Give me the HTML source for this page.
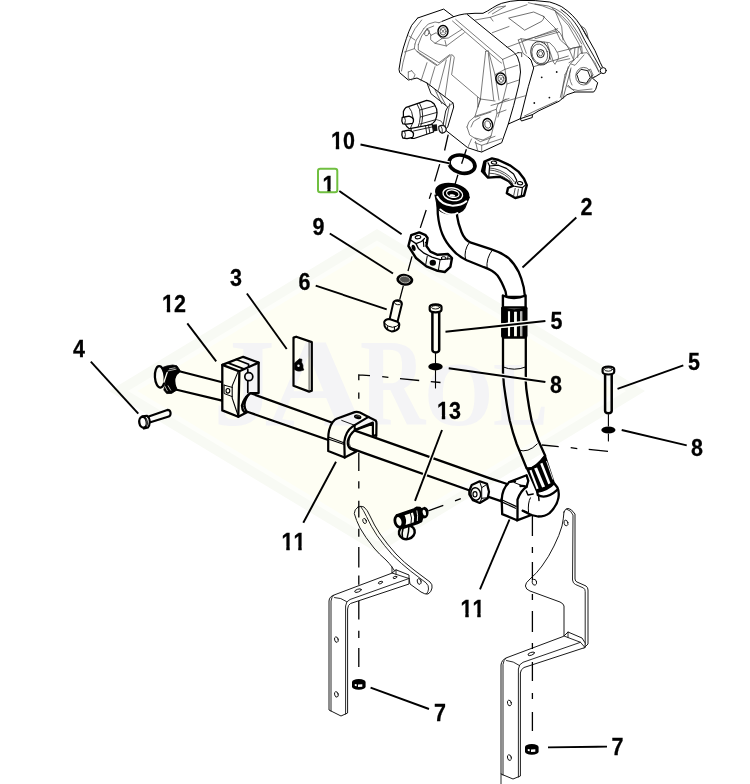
<!DOCTYPE html>
<html>
<head>
<meta charset="utf-8">
<title>Parts diagram</title>
<style>
html,body{margin:0;padding:0;background:#fff;}
body{width:750px;height:784px;overflow:hidden;font-family:"Liberation Sans",sans-serif;}
svg{display:block;}
.lbl{font-family:"Liberation Sans",sans-serif;font-weight:bold;font-size:21.5px;fill:#000;stroke:#000;stroke-width:0.25;}
.ld{stroke:#000;stroke-width:1.9;fill:none;stroke-linecap:butt;}
.k{stroke:#000;stroke-width:2.3;fill:#fff;stroke-linejoin:round;stroke-linecap:round;}
.kn{stroke:#000;stroke-width:2.3;fill:none;stroke-linejoin:round;stroke-linecap:round;}
.t{stroke:#000;stroke-width:1;fill:none;stroke-linejoin:round;stroke-linecap:round;}
.th{stroke:#222;stroke-width:0.8;fill:none;stroke-linejoin:round;stroke-linecap:round;}
.g{stroke:#444;stroke-width:0.7;fill:none;stroke-linejoin:round;stroke-linecap:round;}
.br{stroke:#1a1a1a;stroke-width:1;fill:#fff;stroke-linejoin:round;stroke-linecap:round;}
.brn{stroke:#111;stroke-width:0.9;fill:none;stroke-linejoin:round;stroke-linecap:round;}
.dash{stroke:#000;stroke-width:1.3;fill:none;}
.wm{font-family:"Liberation Serif",serif;font-weight:bold;fill:#f4f4f6;}
</style>
</head>
<body>
<svg width="750" height="784" viewBox="0 0 750 784">
<rect x="0" y="0" width="750" height="784" fill="#fff"/>



<g id="pump">
<!-- silhouette fill -->
<path d="M417.7,18 L443.7,9.1 L453.7,16.7 L464.3,14 L483,13.3 L492.3,8 L501.7,3.3 L519,0 L549.7,2 L561.7,6.7 L572.3,15.3 L580.3,25.3 L588.3,38.7 L595,50.7 L602.3,66.7 L606,70.7 L600.3,74.7 L592.3,78 L597.7,82.7 L595.7,89.3 L593.7,92 L575,92 L567,94.7 L559,101.3 L539,110.7 L520.3,118.7 L508.3,124 L501.7,142.7 L481.7,152 L477.7,151 L467.7,147.7 L445,129.7 L447.7,127 L453.7,107 L453,103 L427,83 L417,78 L408.3,80 L399.7,72.7 L399,69.3 L401,57.3 L406.3,38.7 L411.7,25.3 Z" fill="#fff" stroke="none"/>
<!-- ===== dark outline ===== -->
<path class="t" d="M417.7,18 L443.7,9.1 L453.7,16.7 M417.7,18 L411.7,25.3 Q408.5,31.5 406.3,38.7 Q403,48 401,57.3 L399,69.3 L399.7,72.7 L408.3,80 L417,78 L427,83 L453,103 L453.7,107 L447.7,127 L445,129.7 L467.7,147.7 L477.7,151 L481.7,152 L501.7,142.7 L508.3,124 L513.7,105.3 L519,84 L520.5,72 Q520.3,63 517.5,57 Q515,52.5 511,50 L507.9,47.7 L467.4,14.6"/>
<path class="t" d="M442.3,21.3 L453.7,16.7 Q459,14.8 464.3,14 L475,13.3 L483,13.3 Q488,11 492.3,8 Q497,5 501.7,3.3 Q510,0.8 519,0.4 Q536,0 549.7,2 Q556,3.8 561.7,6.7 Q567.5,10.5 572.3,15.3 Q577,20 580.3,25.3 L588.3,38.7 L595,50.7 L600.3,62.7 L602.3,66.7"/>
<path class="t" d="M561,9.5 Q567,13.5 571.5,18.5 Q575,22.5 578.5,28 L584.8,40.4 L594.4,57.2 L600.4,68" style="stroke-width:0.9"/>
<circle cx="603.2" cy="70.6" r="3" class="t"/>
<path class="t" d="M600.5,73.5 Q596,76.5 592.3,78 L597.7,82.7 L595.7,89.3 L593.7,92 L575,92 L567,94.7 L559,101.3 L539,110.7 L532.3,114.7 L520.3,118.7 L528.3,86.7 L533.7,68 L531,60 L528.3,57.3"/>
<path class="t" d="M520.3,118.7 L521.5,121 L532.3,117.5 L532.3,114.7 M508.3,124 L520.3,118.7"/>
<!-- ===== left cover detail ===== -->
<path class="g" d="M421.7,20 L415,28.7 Q411.5,35 409,41.3 Q405.5,52 403,62.7 L401.5,71 M409,36 L415,40 M404.5,52 L414.3,48.7"/>
<path class="g" d="M423.7,28.7 L428.3,24 L435,22 L439,22.7 M415,44 L416.3,40 L421.7,32 L423.7,28.7 M418.3,44.7 L421.7,36 L427,28.7 L433.7,26 M431,35.3 L436.3,32.7 L441.7,38.7 L435,43.3 L431,40 Z M427,28.7 L431,35.3 M435,43.3 L446.3,46 L464.3,32.7 M441.7,38.7 L448.3,38 L462,29.3 M446.3,46 L445,40.5"/>
<ellipse cx="427" cy="32.7" rx="2.1" ry="3.3" transform="rotate(25 427 32.7)" class="g"/>
<ellipse cx="443" cy="31.3" rx="5" ry="5.8" fill="#fff" stroke="#000" stroke-width="1.4"/>
<ellipse cx="443" cy="31.3" rx="3" ry="3.7" class="g" style="stroke:#222"/>
<path class="g" d="M441.5,29.5 L444.5,33 M441.5,33 L444.5,29.5"/>
<path class="g" d="M442.3,21.3 L439,22.7 M455.7,19.4 L502.6,59.4 M452.5,21 L499.4,61.5 L501.5,63"/>
<path class="g" d="M415,44 L414.3,48.7 L417,51.3 L437.7,65.3 L451,54.7 Q453.5,54.7 454.3,57.3 L451.6,74.7 L480.3,99 M418.3,44.7 L418.3,50 L439,62.7 L449.7,54.7 M417,51.3 L419,53.5 L436.5,65.5"/>
<path class="g" d="M427,62.7 L423,74.7 L421,81 M435,66.7 L431,80 L429.5,86 M446.3,60 L439,88 L437.5,92 M451,56 L445.7,92 L445,97"/>
<path class="g" d="M408.3,72 L408.3,78.7 L411.7,80 M411.7,70.7 L415,74.7 L413.7,78 M408.3,72 L411.7,70.7"/>
<!-- triangle rib -->
<path class="g" d="M485.7,51.3 L488.3,50.7 L495,74.7 L499,100 M485.7,51.3 L480.3,100 L478,107 M488.3,53.3 L493.7,100 M478,107 L477.5,97.5"/>
<!-- bolt mid -->
<ellipse cx="501" cy="78.7" rx="5" ry="5.8" transform="rotate(-15 501 78.7)" fill="#fff" stroke="#000" stroke-width="1.4"/>
<ellipse cx="501" cy="78.7" rx="3" ry="3.7" transform="rotate(-15 501 78.7)" class="g" style="stroke:#222"/>
<path class="g" d="M499.5,77 L502.5,80.5 M499.5,80.5 L502.5,77"/>
<!-- left-face edges of mid housing -->
<path class="g" d="M502.6,59.4 L505,69.3 L507,84 L503,100 L498,117 M502.6,59.4 L518.6,52.5 M505,69.3 L517.7,65.3 M507,84 L519,80 M495,74.7 L505,69.3 M491,105.5 L512,99.5 L526,95.6 M496.3,109.3 L498,104 L506,99 M503.5,100.5 L509,98.5"/>
<path class="g" d="M517.7,52.7 L521.7,52.7 L521.7,56.7" style="stroke:#000"/>
<!-- ===== body contour lines ===== -->
<path class="g" d="M488.3,13.3 L497,7.3 L505.7,6 L492.3,14 M475,20 L490.3,17.3 L527,4.7 M490.3,17.3 L493,21 M492.3,32.7 L509,26.5 M507,47.3 L557.7,28.7 M523,40.5 L556,31 M528.3,2.7 Q543,5 555,10.7 Q563,16 568.3,22.7 L575,32 L581.7,44 M555,10.7 L561.7,26.7 L563,40 M552.3,8 L568.3,25.3 L579,44 L581.7,53.3 M543,16 L560.3,33.3 L569.7,50.7 L573.7,60 M555,28.7 L560.3,40 L571,49.3 M535,38.7 L559,32 M557.7,52 L581.7,46 M557.7,61.3 L569.7,58.7 M569.7,50.7 L572.3,48 L581.7,46.7 L582.3,53.3 M575,48 L573.7,58.5 M578.3,47.3 L577.7,57.5"/>
<path class="g" d="M535,4 L548.3,6 Q556,8.5 561.7,12.7 Q567,17 571,22.7 L579,34.7 L584.3,45.3 L599,72" style="stroke:#333"/>
<path class="g" d="M580.3,25.3 L585,28.7 L587,33 L588.3,38.7 M582,27.5 L584.5,32 M583.5,30.5 L586.3,35.5 M585,33.5 L587.5,38" style="stroke:#222"/>
<!-- flat rect -->
<path class="g" d="M509,18 L533.7,12 L544.3,16.7 Q543.5,19.5 541.7,21.3 L525,30 Z" style="stroke:#333"/>
<!-- plug + boss -->
<path class="g" d="M518.3,40 L521,38.7 L544.3,42 L549.7,42.7 Q555,47 557.7,53.3 Q559,56.5 558.3,58.7 L555,64 M518.3,40 L523,53.3 L528.3,57.3 M521,38.7 L526.3,53.3 M547,42.7 L553.7,62.7 L555,64 M544.3,42 L551,60"/>
<ellipse cx="540.3" cy="53.3" rx="9.3" ry="12" transform="rotate(-18 540.3 53.3)" fill="#fff" stroke="#222" stroke-width="0.85"/>
<ellipse cx="539.8" cy="53.8" rx="7.7" ry="10" transform="rotate(-18 539.8 53.8)" class="g" style="stroke:#333"/>
<ellipse cx="540.6" cy="53.6" rx="3.7" ry="4" fill="#fff" stroke="#111" stroke-width="1"/>
<ellipse cx="540.6" cy="53.6" rx="2" ry="2.3" class="g"/>
<!-- front plate -->
<path class="g" d="M533.7,66.7 L568.3,56 M568.3,66.7 L560.3,97.3 M571,68 L563,98.7 M524.5,116 L537,110 L557,101 M569,62.7 L573.7,60" style="stroke:#333"/>
<circle cx="541.7" cy="77.3" r="0.9" fill="#111"/><circle cx="556.7" cy="72" r="0.9" fill="#111"/><circle cx="534.3" cy="103" r="0.9" fill="#111"/><circle cx="549.4" cy="97.6" r="0.9" fill="#111"/>
<!-- hex plug right -->
<ellipse cx="583.7" cy="76.2" rx="8" ry="8.8" class="g" style="stroke:#333"/>
<path class="t" d="M577,74 L581,69.3 L587.7,70.7 L590.3,77.3 L586.3,83.3 L579.7,82 Z" style="fill:#fff;stroke-width:0.9"/>
<path class="g" d="M587.7,70.7 L590.5,69 L593,75 L590.3,77.3 M593,75 L589,81.5 L586.3,83.3"/>
<path class="g" d="M565,74.7 L570.3,64 L580.3,53.3 L587,52.7 L595,62.7 L599,72 M571,64 L575,65.3 L584,55 M565,74.7 L563,85.3 L561.7,98.7 M575,92 L568.3,85.3 M567,86 Q571,90 578,90.5 L592,89 M592.3,78 L596,76.5 M570.5,70 Q568,78 572,85"/>
<!-- ===== bottom flange / port boss ===== -->
<path class="g" d="M480.3,99 L495,101 M475,116.3 L480.3,99 M467,127 L469,121.7 L475,116.3 L485.7,113 L496.3,109.3 L497,113.3 L491,136 L483,140 L475,138 M467,127 L469.7,135 L480.3,141.7 L495,136.3 M471,127 L473.5,121.5 L480,117.5 M475,142.7 L481.7,145.3 L501.7,138.7 M481.7,145.3 L481.7,152 M467.7,147.7 L471.5,139 M477.7,151 L475.5,141.5 M491,136 L487,144 M497,113.3 L506,110 M475,117.3 L491,112"/>
<ellipse cx="487.7" cy="124.5" rx="4.8" ry="6" transform="rotate(-15 487.7 124.5)" fill="#fff" stroke="#000" stroke-width="1.4"/>
<ellipse cx="487.7" cy="124.5" rx="2.9" ry="3.8" transform="rotate(-15 487.7 124.5)" class="g" style="stroke:#222"/>
<!-- ===== solenoid mounting plate ===== -->
<path class="t" d="M427,83 L431,93.7 L447.7,107 L445.7,111 L443,125.7" style="stroke-width:0.9"/>
<path class="g" d="M435,89.7 L441.7,103.7 M439,92.3 L445.7,105 M449.7,103.7 L445,127.7 M447.7,107 L453,103" style="stroke:#222"/>
<!-- ===== solenoid ===== -->
<path d="M406.2,107.3 L426.7,100.3 Q431.5,100.8 434.2,104 Q437.3,108.5 437,113.3 Q436.8,117.5 435.1,120.8 Q433.5,123.5 430.5,124.5 L417.4,128.3 L409,128.5 Q404,125 403.4,118 L403.4,111.5 Q404.3,108.8 406.2,107.3 Z" fill="#fff" stroke="#000" stroke-width="1.25" stroke-linejoin="round"/>
<path class="g" d="M417,103.8 Q420.5,109 420.3,116 Q420,123 417.8,127.8 M419.5,103 Q423,109 422.7,116 Q422.4,122.5 420.3,127.3 M420,110 L435,105.8 M420.5,117 L437,112.4 M420.3,124 L435.3,119.8 M408.5,106.5 Q412.5,111 413,118 Q413,124.5 410.5,128.2" style="stroke:#111;stroke-width:0.9"/>
<path d="M402.2,117.3 L404.5,117 L409,116.2 Q412.8,117.2 413.5,119.5 Q413.6,122.3 412.5,123.3 L407,124.2 L402.8,123.8 Q401.2,121 402.2,117.3 Z" fill="#fff" stroke="#000" stroke-width="1.3" stroke-linejoin="round"/>
<path class="g" d="M404.6,117.2 Q406.3,120.5 404.8,123.8" style="stroke:#111;stroke-width:0.9"/>
<path d="M411,128.3 L432.3,124.5 L433.5,132 L414,138.5 L411.5,138.3 Z" fill="#fff" stroke="#000" stroke-width="1.2" stroke-linejoin="round"/>
<path class="g" d="M413.5,131 L432.7,126.8 M428.5,125.3 L429.8,133 M425.5,125.8 L426.8,134" style="stroke:#111;stroke-width:0.9"/>
<path d="M402.2,131.3 L404.5,131 L409,130.2 Q412.8,131.2 413.5,133.5 Q413.6,136.3 412.5,137.5 L407,138.6 L402.8,138 Q401.2,135 402.2,131.3 Z" fill="#fff" stroke="#000" stroke-width="1.3" stroke-linejoin="round"/>
<path class="g" d="M404.6,131.2 Q406.3,134.5 404.8,137.9" style="stroke:#111;stroke-width:0.9"/>
<path d="M432.3,124.8 L436.8,124.3 L437.5,130.8 L433.5,131.5 Z" fill="#111"/>
<path d="M438.8,126.5 Q441.5,124.5 444.5,126 Q446.8,128 446,130.8 Q444.5,133.3 441.5,133 Q438.5,131.5 438.8,126.5 Z" fill="#fff" stroke="#111" stroke-width="1.2"/>
<path class="g" d="M440.8,125.8 Q443,128.5 442.3,133" style="stroke:#111;stroke-width:0.8"/>
<path class="g" d="M436.3,119.5 L441,121 L444,125.5" style="stroke:#222"/>
</g>
<!-- SECTION:PUMP -->
<g id="fitting">
<!-- O-ring 10 -->
<ellipse cx="462" cy="164.2" rx="13.2" ry="8.8" transform="rotate(14 462 164.2)" fill="none" stroke="#000" stroke-width="3.6"/>
<!-- upper-right flange half -->
<path d="M482,171.2 L484.4,161.6 L492,158.4 L498.4,160 L510.4,165.6 L518.4,171.6 L524,178.8 L526.8,185.2 L524,195.6 L515.2,198 L506.8,193.2 L508,188 L512.8,186 L508.8,181.2 L500,176.8 L488,177.6 Z" fill="#fff" stroke="#000" stroke-width="2.4" stroke-linejoin="round"/>
<path d="M482,171.2 L484.4,161.6 L486.6,162.3 L485.4,171.5 L488,177.6 Z" fill="#000"/>
<path class="t" d="M488,162.8 L489.6,166 L498.4,165.2 L506.4,168.4 L513.6,174 L516.8,180.4 L515.2,183.6 M489.6,166 L488.8,176.5" style="stroke-width:1.2"/>
<path class="g" d="M489.6,168 Q500,168.5 509.6,176.4 Q512.5,179 514.4,182 M489.6,170 Q500,170.5 508.8,178 Q511,180.5 512.8,183.6 M489.6,173.2 Q500,173.5 508,180 Q510,182.5 511.6,185.2" style="stroke:#222;stroke-width:0.8"/>
<ellipse cx="494" cy="162.6" rx="2.7" ry="1.5" transform="rotate(10 494 162.6)" fill="#fff" stroke="#000" stroke-width="1.1"/>
<ellipse cx="520" cy="183.2" rx="2.7" ry="1.6" transform="rotate(10 520 183.2)" fill="#fff" stroke="#000" stroke-width="1.1"/>
<path class="t" d="M512.8,186 L522.4,187.6 L525.5,185 M522.4,187.6 L521.2,196.4" style="stroke-width:1.2"/>
<path class="g" d="M515.2,188.4 L513.6,196 M518.4,189.2 L517.2,196.8" style="stroke:#222;stroke-width:0.8"/>
<!-- tube fitting 2 : rigid tube -->
<path class="k" d="M437.5,204 L437.8,214 Q439,226 442.4,234.3 Q446,243 452.8,249.9 Q458,256 466.7,260.3 L484,267.2 Q493,270.5 497.5,275.5 Q501.5,281 505.6,291.6 L506.5,297 L525,297 L523.7,287.2 Q521.5,278 518.5,271.6 Q514,263 508.1,257.7 Q501,252.5 490.8,249.2 L471,242.7 Q464.5,240 461.5,232 Q458,223 457.1,216 L456.5,206 Z"/>
<path class="t" d="M469.5,242.3 Q463.5,250 465.5,259.5"/>
<path class="t" d="M492.5,249.8 Q486,258 487,268.3"/>
<!-- flange head -->
<path d="M435,195 L437.6,207.6 Q438.5,210.5 441,211.5 Q449,216.5 459.4,212.4 Q463.5,210.5 465,207.6 L469.4,197 Z" fill="#000" stroke="#000" stroke-width="1.2" stroke-linejoin="round"/>
<ellipse cx="452.2" cy="193.4" rx="17.4" ry="10.3" transform="rotate(12 452.2 193.4)" fill="#000"/>
<!-- white lower-front stripes on rim -->
<path d="M437.3,196.8 Q441,204.3 451.5,205.6 Q461,206 466.3,201.3" fill="none" stroke="#fff" stroke-width="2" stroke-linecap="round"/>
<path d="M440.3,209.4 Q445,213.8 451,214.4 Q455.5,214.4 457.5,213" fill="none" stroke="#fff" stroke-width="1.9" stroke-linecap="round"/>
<!-- top-face rings -->
<ellipse cx="452.8" cy="194.2" rx="9.9" ry="6.3" transform="rotate(10 452.8 194.2)" fill="none" stroke="#fff" stroke-width="1.4"/>
<ellipse cx="452.8" cy="193.7" rx="6.3" ry="3.7" transform="rotate(10 452.8 193.7)" fill="none" stroke="#fff" stroke-width="1.2"/>
<ellipse cx="452.4" cy="195.5" rx="3" ry="1.2" transform="rotate(10 452.4 195.5)" fill="#fff"/>
<!-- ferrule top -->
<path class="k" d="M502.9,295.5 L502.9,307.5 L525.6,307.5 L525.6,295.5 Q514,300.5 502.9,295.5 Z" style="stroke-width:2.4"/>
<path d="M501.6,307.5 Q514,313 527,307.5 L527,336.5 Q514,342 501.6,336.5 Z" fill="#000" stroke="#000" stroke-width="1" stroke-linejoin="round"/>
<path d="M509,311.3 L509,338 M515.45,311.8 L515.45,338.6 M521.25,311.3 L521.25,338" stroke="#fff" fill="none" stroke-width="2.1"/>
<path d="M515.45,311.8 L515.45,338.6" stroke="#fff" fill="none" stroke-width="2.7"/>
<path d="M521.25,311.3 L521.25,338" stroke="#000" fill="none" stroke-width="0.4"/>
<path d="M501.6,307.5 Q514,313 527,307.5" stroke="#000" stroke-width="2.2" fill="none"/>
<path d="M501.6,336.5 Q514,342 527,336.5" stroke="#000" stroke-width="1.8" fill="none"/>
<!-- hose -->
<path class="k" d="M503,337.5 L503,373 Q503.6,385 505.5,396 Q507.2,408 509.7,420.5 Q512.6,432.5 516.7,444 L526.6,468.2 Q534,470.5 545.2,455.7 L538,439.7 Q534.2,429.5 531.6,420.5 Q529,408 527.3,396 Q526,388 525.8,382 L525.8,337.5 Z"/>
<path class="t" d="M503.2,367 Q514.2,371.5 525.6,367"/>
<path class="t" d="M518.6,450 Q528,453.5 537.2,444"/>
<!-- elbow body -->
<path d="M537.1,492.1 L554.3,483.5 L557.4,487.5 Q559.5,492 558.4,498 Q557,506 549.5,513.1 Q545,516.5 538,516.5 L531.3,515 L522.7,510.7 L519,497 L526,488 Z" fill="#fff" stroke="none"/>
<path class="kn" d="M554.3,483.5 L557.4,487.5 Q559.5,492 558.4,498 Q557,506 549.5,513.1 Q545,516.5 538,516.5 L531.3,515 L522.7,510.7"/>
<path class="kn" d="M537.3,492.3 L537.8,495 Q546,500 557.6,489.6"/>
<path class="t" d="M530.4,497.8 Q527.6,503 528.5,512.2" />
<path class="kn" d="M538.6,496 L539,500.5" style="stroke-width:1.5"/>
<path class="kn" d="M526.3,491 L528,495 L533.2,494"  style="stroke-width:1.5"/>
<!-- lower ferrule -->
<path d="M526.6,468.2 Q534,470.5 545.2,455.7 L554.3,483.5 Q548,490.5 537.1,492.1 Z" fill="#000" stroke="#000" stroke-width="1.6" stroke-linejoin="round"/>
<path d="M530.4,470.2 L537.6,488.8" stroke="#fff" stroke-width="2.1" fill="none"/>
<path d="M535.6,468 L543.6,487" stroke="#fff" stroke-width="3.2" fill="none"/>
<path d="M541.3,463.3 L549.4,483.8" stroke="#fff" stroke-width="2.4" fill="none"/><path d="M546.5,461 L553,479.5" stroke="#fff" stroke-width="0.9" fill="none"/>
</g>
<!-- SECTION:FITTING -->
<g id="tube">
<!-- long tube: left part (before block) -->
<path class="k" d="M179.3,371.3 L222.2,382.3 L222.2,400.6 L176.7,389.7 Q173.5,384 174.3,378.5 Q175.5,373.5 179.3,371.3 Z" style="stroke-width:2.2"/>
<!-- long tube: right of block to elbow block -->
<path class="k" d="M250.1,393 L331.7,422.5 L365,434.2 L490,478.3 L507.2,484 L501,501.2 L468.3,490 L365,453.3 L328.3,440 L246.5,411.5 Q241,403 250.1,393 Z"/>
<!-- end fitting -->
<ellipse cx="159.8" cy="376.9" rx="4.9" ry="10.7" transform="rotate(-4 159.8 376.9)" fill="#fff" stroke="#000" stroke-width="2.3"/>
<path d="M162.5,367.5 L166.7,366 L172.7,365 L176.9,365.8 L180,370.3 L179.5,372.2 Q175.5,374 174.5,379 Q173.8,385 177,389.9 L171.6,393.4 L166.7,393.6 L163.8,390 Q165.8,384 165.5,377 Q165,371 162.5,367.5 Z" fill="#000" stroke="#000" stroke-width="0.8" stroke-linejoin="round"/>
<path d="M163.9,382.2 L167.2,372.4" stroke="#fff" stroke-width="1.3" fill="none" stroke-linecap="round"/>
<path d="M168.2,370.9 L176,369.2 M164.9,386.3 L167.3,390.8 M168.1,385.8 L170.7,390.2 M169.5,368.8 L175,367.8" stroke="#fff" stroke-width="0.7" fill="none" stroke-linecap="round"/>
<!-- clamp block 12 -->
<path class="k" d="M222.3,364.9 L243.2,356.8 L258.6,362.6 L258.6,393 L250.1,393.2 Q244,398 241.9,405.5 Q242,409.5 244.2,412 L247.5,412 L238.3,416.8 L222.3,410.4 Z"/>
<path class="kn" d="M222.3,364.9 L239.4,371.3 L258.6,362.6 M239.4,371.3 L238.3,416.8"/>
<path class="kn" d="M227.9,362.9 L243.7,368.9 M236.3,359.5 L248.6,364.3 L248.6,366.7" style="stroke-width:1.7"/>
<path class="t" d="M237.9,372.1 L232.2,385.9 L232.2,398.1 L237.9,415" style="stroke-width:1.1"/>
<path class="t" d="M224.1,385.1 L232.2,387.4 M232.2,396.6 L224.1,393.5 L224.1,385.1" style="stroke-width:1"/>
<ellipse cx="227.9" cy="390.8" rx="1.9" ry="2.3" class="t" style="stroke-width:1.1"/>
<path class="kn" d="M247.8,369.5 L247.8,372.5 M247.8,381 L247.8,392.5" style="stroke-width:1.7"/>
<circle cx="248.8" cy="376.7" r="4" fill="#fff" stroke="#000" stroke-width="1.7"/>
<path class="t" d="M245.6,396.5 L247,397.3 M244.3,398.8 L245.8,399.4 M243.5,401.3 L245,401.6 M243.1,403.9 L244.6,403.9 M243.2,406.5 L244.7,406.2 M243.8,409 L245.2,408.4" style="stroke-width:0.8"/>
<!-- saddle clamp 11 -->
<path class="k" d="M328.2,451.1 L328.2,439 Q328.3,433.5 329.1,430.3 Q330.5,425 333,421.7 Q335,419.5 337.3,418.6 L354.7,412.1 Q357.5,411.6 359.9,412.6 L368.5,416.9 L375.5,420.4 Q376.6,421.5 376.5,423.5 L376.3,436 L372.9,435 L372.9,423.8 L354.7,430.3 Q349.5,434.5 347.8,441 Q347.3,446 350.3,448.8 L356.4,451.6 L344.7,457.6 Z" style="stroke-width:2.2"/>
<path class="kn" d="M344.7,457.6 L344.3,441.6 Q345,436.5 346.9,432.9 Q349,429 352.1,426.9 L354.7,425.1 L368.5,416.9" style="stroke-width:2.2"/>
<path class="kn" d="M354.7,425.1 L354.7,430 L372.9,422.5 L372.9,424" style="stroke-width:2"/>
<path class="t" d="M341.7,420.4 L354.2,425.1" style="stroke-width:0.9"/>
<path class="t" d="M328.2,439 L344.3,444.6 M329.1,437.3 L343.8,442.7" style="stroke-width:1.1"/>
<ellipse cx="357.7" cy="416.9" rx="3.8" ry="2.2" transform="rotate(12 357.7 416.9)" fill="#000"/>
<path d="M355.5,416.5 Q357.5,415.2 360,416.3" stroke="#999" stroke-width="0.6" fill="none"/>
<path class="t" d="M351.5,433.5 Q349,438 349.3,443 Q349.8,446.5 351.8,448.3" style="stroke-width:0.8;stroke-dasharray:1 0.8"/>
<!-- nut -->
<path class="k" d="M469.3,491 L471.7,485 L479.7,481.3 L487,483.7 L489,491.7 L487.7,498.3 L479.7,503 L473,500.3 L469.3,494.3 Z" style="stroke-width:2.2"/>
<path class="t" d="M479.7,481.7 L481.7,487.7 L487,484.3 M481.7,487.7 L481.7,498.3 L487.7,497.7 M481.7,498.3 L479.7,503" style="stroke-width:1"/>
<ellipse cx="475.7" cy="494" rx="4.9" ry="6.2" transform="rotate(-8 475.7 494)" fill="#fff" stroke="#000" stroke-width="1.5"/>
<ellipse cx="475" cy="494.3" rx="2" ry="2.7" class="t" style="stroke-width:1.2"/>
<!-- elbow block 11 -->
<path class="k" d="M502.2,514.1 L501.7,499.7 Q502,494 503.6,490.2 Q505.5,485.5 509.3,482 L526.6,475.3 L528.3,480.8 L526.6,486.8 Q520.5,491 517.5,499.7 L517.5,518.9 L517,520.3 Z"/>
<path class="kn" d="M509.3,482 Q512.5,481.3 515,481.5 M526.6,486.8 Q523,485.5 520.5,486"/>
<path class="t" d="M514.1,482.5 L523.7,486.3"/>
<path class="kn" d="M517,520.3 L531.3,515"/>
<path class="t" d="M501.7,499.7 L516,506.4 M502.2,502.1 L515.6,508.3" style="stroke-width:1.2"/>
<path class="kn" d="M522.7,510.7 L527.5,512.5" style="stroke-width:1.8"/>
</g>
<!-- SECTION:TUBE -->
<g id="small">
<!-- lower-left flange half -->
<path d="M408.4,246 L411.2,235.2 L419.2,232.4 L425.6,235.2 L427.6,238 L426.4,246 L430.4,251.6 L437.6,254.8 L448,254 L452,258 L450.4,266.8 L444.8,272 L437.6,270.8 L426.4,266.4 L416,258 Z" fill="#fff" stroke="#000" stroke-width="2.4" stroke-linejoin="round"/>
<path class="t" d="M411.2,240.4 L416,243.6 L418.4,248.4 L424,253.2 L432,257.2 L440,259.6 L448,258.8 L451.2,258.8" style="stroke-width:1.3"/>
<path class="t" d="M416,243.6 L421.5,241.5 L424.5,238.5 M423.3,240 L423.8,246.5 M425.5,242.5 L427,243.5" style="stroke-width:1.2"/>
<ellipse cx="418" cy="237.2" rx="2.8" ry="1.6" transform="rotate(-8 418 237.2)" fill="#fff" stroke="#000" stroke-width="1.1"/>
<ellipse cx="443.6" cy="258" rx="2.4" ry="1.3" fill="#fff" stroke="#000" stroke-width="1"/>
<path class="t" d="M427.2,256.4 L425.6,265.2 M440,260.4 L438.4,270 M448.3,255 L447.6,259" style="stroke-width:1"/>
<ellipse cx="413.6" cy="247.8" rx="1.9" ry="3.2" transform="rotate(-15 413.6 247.8)" fill="#000"/>
<ellipse cx="432.8" cy="262.8" rx="3.2" ry="3" fill="#000"/>
<!-- washer 9 -->
<ellipse cx="404.8" cy="279.8" rx="8.5" ry="5.9" transform="rotate(8 404.8 279.8)" fill="#000"/>
<ellipse cx="404.8" cy="279.6" rx="5.3" ry="3.3" transform="rotate(8 404.8 279.6)" fill="#555" stroke="#bbb" stroke-width="0.9"/>
<ellipse cx="404.8" cy="279.8" rx="2.3" ry="1.3" transform="rotate(8 404.8 279.8)" fill="#555"/>
<!-- bolt 6 -->
<path d="M393.2,303.1 Q394,300.2 397.9,300.3 Q401.8,300.8 401.9,304 L397.4,322.2 L389.5,319.7 Z" fill="#fff" stroke="#000" stroke-width="2" stroke-linejoin="round"/>
<ellipse cx="397.7" cy="303" rx="3.2" ry="1.7" transform="rotate(10 397.7 303)" fill="#fff" stroke="#000" stroke-width="0.9"/>
<path d="M384.2,322 Q385,319.3 389.5,319 L397.4,321.8 Q399.6,323 399.3,325 L398.6,328.3 Q396,331.2 391.5,331.4 Q386,330 384.6,326 Z" fill="#fff" stroke="#000" stroke-width="2" stroke-linejoin="round"/>
<path class="t" d="M384.8,323.5 Q387.5,326.8 392.5,327.3 Q397,327 399,324.2 M387.5,326.7 L387.8,329.8 M394.5,327.2 L394.3,331" style="stroke-width:1"/>
<!-- bolt 5 (left) -->
<path d="M432.4,311 L432.4,350 Q432.6,352.3 435.8,352.4 Q439,352.3 439.2,350 L439.2,311 Z" fill="#fff" stroke="#000" stroke-width="2.5" stroke-linejoin="round"/>
<path d="M429.7,306.8 Q429.9,304.6 435.6,304.3 Q441.3,304.6 441.5,306.8 L441.5,309.8 Q441.3,312 435.6,312.3 Q429.9,312 429.7,309.8 Z" fill="#fff" stroke="#000" stroke-width="2.2" stroke-linejoin="round"/>
<ellipse cx="435.6" cy="307.3" rx="4" ry="1.7" class="t" style="stroke-width:0.9"/>
<path class="t" d="M435.5,353.5 L435.5,363 M435.5,370.5 L435.5,388" style="stroke-width:1.1"/>
<!-- washer 8 (left) -->
<ellipse cx="435.5" cy="366.7" rx="7.2" ry="3.7" fill="#000"/>
<!-- bolt 5 (right) -->
<path d="M605.1,373.5 L605.1,411 Q605.3,413.2 608.4,413.3 Q611.5,413.2 611.7,411 L611.7,373.5 Z" fill="#fff" stroke="#000" stroke-width="2.5" stroke-linejoin="round"/>
<path d="M602.6,369 Q602.8,366.8 608.4,366.5 Q614,366.8 614.2,369 L614.2,372 Q614,374.2 608.4,374.5 Q602.8,374.2 602.6,372 Z" fill="#fff" stroke="#000" stroke-width="2.2" stroke-linejoin="round"/>
<ellipse cx="608.4" cy="369.5" rx="3.9" ry="1.7" class="t" style="stroke-width:0.9"/>
<path class="t" d="M608.4,414.5 L608.4,426 M608.4,434 L608.4,441" style="stroke-width:1.1"/>
<!-- washer 8 (right) -->
<ellipse cx="608.4" cy="430" rx="7.1" ry="3.5" fill="#000"/>
<!-- plate 3 -->
<path class="k" d="M293.5,337.6 L296.2,336.7 L311.8,342.1 L311.8,390.7 L309.1,391.6 L293.5,385.8 Z" style="stroke-width:2.2"/>
<path class="t" d="M309.1,342.3 L309.1,391" style="stroke-width:0.9;stroke:#333"/>
<path d="M294.5,363 L299.5,358.8 L302,359.3 L301.6,362.2 Q303.6,365 303,368 L303.9,370 L300.5,371 Q297,371.6 294.5,369.5 Z" fill="#000" stroke="#000" stroke-width="0.6" stroke-linejoin="round"/>
<ellipse cx="298.5" cy="365.7" rx="1.2" ry="1.3" fill="#fff"/>
<!-- bolt 4 -->
<path d="M148,416.7 L167.3,409.9 Q170.2,409.8 170.6,412.8 Q170.8,415.6 168.8,416.6 L149.6,422.6 Z" fill="#fff" stroke="#000" stroke-width="2.1" stroke-linejoin="round"/>
<path d="M142.3,416.3 L146.8,415.7 Q149.5,417.5 149.8,421.8 Q149.6,426 148,427.5 L143.8,428.6 Z" fill="#fff" stroke="#000" stroke-width="2.1" stroke-linejoin="round"/>
<ellipse cx="143" cy="422.3" rx="3.7" ry="5.4" transform="rotate(-10 143 422.3)" fill="#fff" stroke="#000" stroke-width="2.3"/>
<path d="M146,418.5 Q147.3,422 146.3,426" stroke="#666" stroke-width="0.7" fill="none"/>
<!-- fitting 13 -->
<ellipse cx="406.8" cy="532.2" rx="8" ry="6.9" transform="rotate(-15 406.8 532.2)" fill="none" stroke="#000" stroke-width="2.5"/>
<path d="M403.5,526.5 Q401.5,533 402.5,538 M409,525.5 Q408.8,532.5 407,538.5" stroke="#000" stroke-width="1.5" fill="none"/>
<path d="M396.5,515 L414,509 L416.5,507.3 L420,507.5 L421.5,509 L424.5,507.6 Q427.8,508.5 427.8,512.5 Q427.6,516.5 425,517.5 L422.5,517.8 L421.5,521.5 L417.5,523.5 L403.3,528.3 Z" fill="#000" stroke="#000" stroke-width="1.6" stroke-linejoin="round"/>
<path d="M404.5,515.3 L413,512.4 Q415,517 413.8,522.2 L405.6,525 Q407,519.5 404.5,515.3 Z" fill="#fff"/>
<path d="M410.3,513 Q412.3,518 411,523" stroke="#000" stroke-width="1" fill="none"/>
<path d="M416.8,510.5 Q418.2,515.5 417.3,521" stroke="#fff" stroke-width="0.9" fill="none"/>
<ellipse cx="424.3" cy="512.6" rx="1.6" ry="3" transform="rotate(-15 424.3 512.6)" fill="#fff"/>
<ellipse cx="398.9" cy="521.4" rx="3.9" ry="5.9" transform="rotate(-15 398.9 521.4)" fill="#fff" stroke="#000" stroke-width="2.8"/>
<!-- nuts 7 -->
<path d="M352,682 Q352.4,679.2 358.8,678.9 Q365.2,679.2 365.6,682 L365.6,686.8 Q365.2,689.5 358.8,689.8 Q352.4,689.5 352,686.8 Z" fill="#000"/>
<path d="M354.8,683.9 L356.7,684.3 L356.7,686.3 L354.8,685.9 Z M358,684.6 L362.3,684.2 L362.3,686.7 L358,687.1 Z" fill="#fff"/>
<path d="M525,747 Q525.4,744.2 531.8,743.9 Q538.2,744.2 538.6,747 L538.6,751.8 Q538.2,754.5 531.8,754.8 Q525.4,754.5 525,751.8 Z" fill="#000"/>
<path d="M527.8,748.9 L529.7,749.3 L529.7,751.3 L527.8,750.9 Z M531,749.6 L535.3,749.2 L535.3,751.7 L531,752.1 Z" fill="#fff"/>
</g>
<!-- SECTION:SMALL -->
<g id="brackets">
<!-- LEFT bracket -->
<!-- curved strap -->
<path class="br" d="M358,507 Q361,505.5 364,507 Q367.5,510 370,516 Q374,525 380,534 Q387,544 396,554 Q404,562.5 414,570 L430,582 Q432.8,584.5 432,588 Q431.5,592 428,594 Q425,594.5 421,592 L410,584 L409,578 L396.5,573.8 L392,567 Q389.5,563.5 386,560 Q379,554 374,548 Q365,537 360,528 Q356,520 354.3,513.5 Q354.2,509.5 358,507 Z"/>
<path class="brn" d="M360.5,506.3 Q363.5,510 366.5,516.5 Q371,526.5 377,535.5 Q384,545.5 393,555.5 Q401,563.5 410.5,571 L426,582.8 Q429,585.5 428.5,589 Q428.3,592 426.5,594"/>
<ellipse cx="364.6" cy="521" rx="1.7" ry="2.6" transform="rotate(-20 364.6 521)" class="brn"/>
<ellipse cx="419.2" cy="581.5" rx="1.9" ry="2.9" transform="rotate(-15 419.2 581.5)" class="brn"/>
<!-- horizontal arm + vertical leg -->
<path class="br" d="M392,573 L396,569.8 L409,575 L409,584 L350.5,603.5 Q347.8,605 347.6,609 L347.6,713 L341,716 L329,710 L329,601 Q329.3,596.5 334,595 Z"/>
<path class="brn" d="M392,573 L392,567 M392,573 L409,578.5 M409,578.5 L350,599.5 Q346,601 345.6,606 L345.6,714 M334,595 Q331.5,596.5 331,601 L331,711 M396,569.8 L396,574.3"/>
<path class="brn" d="M334.5,597.5 Q341,597.5 346.5,601.5"/>
<ellipse cx="358" cy="590.6" rx="3.5" ry="1.4" transform="rotate(-20 358 590.6)" class="brn"/>
<ellipse cx="380.4" cy="582.6" rx="2.2" ry="1.1" transform="rotate(-20 380.4 582.6)" class="brn"/>
<ellipse cx="395" cy="577.4" rx="2" ry="1" transform="rotate(-20 395 577.4)" class="brn"/>
<ellipse cx="336.4" cy="639.6" rx="1.8" ry="2.8" transform="rotate(-15 336.4 639.6)" class="brn"/>
<ellipse cx="336.4" cy="694.4" rx="1.8" ry="2.8" transform="rotate(-15 336.4 694.4)" class="brn"/>
<!-- RIGHT bracket -->
<path class="br" d="M564,512 Q565,508.5 568,508.4 Q571,508.3 575,514 L575,579 Q575.3,581.5 577,582 L586,586 Q588,587.5 588,590 L588,644 L584,648 L580,646 L565,640 L564,636 L564,606 Q563.5,603.5 560,602 L530,591 Q525.8,589.5 525.4,586 Q525.2,583 530,579 Q537,573 542,566 Q549,556.5 554,546 Q559.5,535 562,526 Q563.5,519 564,512 Z"/>
<path class="brn" d="M566.5,509 Q571.5,510.5 573,515 L572.5,580 Q573,583.5 575.5,584.5 L583.5,588 Q585.2,589 585.2,591.5 L585.2,643 L584,648"/>
<ellipse cx="566" cy="523" rx="1.9" ry="2.9" transform="rotate(-15 566 523)" class="brn"/>
<ellipse cx="534.4" cy="582.2" rx="2.2" ry="3" transform="rotate(-15 534.4 582.2)" class="brn"/>
<!-- lower arm + leg -->
<path class="br" d="M564,636 L568,632 L582,638 L585.2,643 L585,647.5 L524,667.5 Q520.5,669.5 520.4,673 L520.4,776 L513,779 L501,774 L501,665 Q501.5,660 506,658 Z"/>
<path class="brn" d="M564,636 L580.5,642.3 L585,647.5 M580.5,642.3 L523,662.3 Q518.8,664 518.4,669 L518.4,777 M506,658 Q503.5,660 503,664.5 L503,775 M568,632 L568,637.5"/>
<path class="brn" d="M506.5,660.5 Q513.5,661 519.5,665.5"/>
<ellipse cx="531.2" cy="653.8" rx="3.4" ry="1.4" transform="rotate(-20 531.2 653.8)" class="brn"/>
<ellipse cx="509.4" cy="703" rx="1.9" ry="2.9" transform="rotate(-15 509.4 703)" class="brn"/>
<ellipse cx="509.4" cy="757.6" rx="1.9" ry="2.9" transform="rotate(-15 509.4 757.6)" class="brn"/>
<path class="brn" d="M501,774 L501,784"/>
</g>
<!-- SECTION:BRACKETS -->
<g id="dash">
<!-- axis through pump port / ring / fitting (left line: through flange half, washer 9, bolt 6) -->
<path class="dash" d="M448.2,134.7 L444.6,150.5 M439.7,164.1 L434.6,181.4 M431.3,192.7 L429.3,198.8 M426.2,210 L420.3,227.9 M412,256.4 L408,271 M403.3,285.8 L399.7,299.7"/>
<path class="dash" d="M466.4,149.3 L461.6,163.8 M457.9,174.7 L455,184.4"/>
<!-- left vertical -->
<path class="dash" d="M358.8,374.8 L370,375.7 M382.2,376.7 L388.4,377.3 M358.8,374.2 L358.8,380.3 M358.8,392.5 L358.8,398.7 M358.8,452.8 L358.8,471 M358.8,481.3 L358.8,488.5 M358.8,500.7 L358.8,517.4 M358.8,528.7 L358.8,536.8 M358.8,547 L358.8,567.4 M358.8,575.6 L358.8,584.8 M358.8,601 L358.8,619.5 M358.8,630.7 L358.8,637.9 M358.8,648 L358.8,667"/>
<path class="dash" d="M400,378.7 L419.2,380.5 M430.8,381.7 L440.5,382.5"/>
<!-- right vertical -->
<path class="dash" d="M532.4,516 L532.4,536 M532.4,547 L532.4,553 M532.4,562 L532.4,580 M532.4,594 L532.4,600 M532.4,611 L532.4,632 M532.4,643 L532.4,649 M532.4,662 L532.4,681 M532.4,693 L532.4,699 M532.4,712 L532.4,731"/>
<!-- from hose to right bolt -->
<path class="dash" d="M542,445 L558.7,446.6 M570.7,447.7 L577.3,448.6 M588.7,449.4 L608,451.4"/>
<!-- fitting 13 axis -->
<path class="dash" d="M428.3,510.8 L443.3,505.3 M455,500.8 L460.8,498.7"/>
</g>
<!-- SECTION:DASH -->
<g id="labels" opacity="0.999">
<text class="lbl" transform="translate(331,149.2) scale(1,1.09)" clip-path="url(#one)">1</text><text class="lbl" transform="translate(342.96,149.2) scale(1,1.09)">0</text>
<text class="lbl" transform="translate(312.5,234.9) scale(1,1.09)">9</text>
<text class="lbl" transform="translate(298.5,290.4) scale(1,1.09)">6</text>
<text class="lbl" transform="translate(230,286.4) scale(1,1.09)">3</text>
<text class="lbl" transform="translate(162,312) scale(1,1.09)" clip-path="url(#one)">1</text><text class="lbl" transform="translate(173.96,312) scale(1,1.09)">2</text>
<text class="lbl" transform="translate(73,357.2) scale(1,1.09)">4</text>
<text class="lbl" transform="translate(580.5,215) scale(1,1.09)">2</text>
<text class="lbl" transform="translate(550.5,328.5) scale(1,1.09)">5</text>
<text class="lbl" transform="translate(550,393) scale(1,1.09)">8</text>
<text class="lbl" transform="translate(688,369.7) scale(1,1.09)">5</text>
<text class="lbl" transform="translate(691,455.5) scale(1,1.09)">8</text>
<text class="lbl" transform="translate(437,418.9) scale(1,1.09)" clip-path="url(#one)">1</text><text class="lbl" transform="translate(448.96,418.9) scale(1,1.09)">3</text>
<text class="lbl" transform="translate(281.5,550.4) scale(1,1.09)" clip-path="url(#one)">1</text><text class="lbl" transform="translate(293.46,550.4) scale(1,1.09)" clip-path="url(#one)">1</text>
<text class="lbl" transform="translate(460.5,617.1) scale(1,1.09)" clip-path="url(#one)">1</text><text class="lbl" transform="translate(472.46,617.1) scale(1,1.09)" clip-path="url(#one)">1</text>
<text class="lbl" transform="translate(434,720.7) scale(1,1.09)">7</text>
<text class="lbl" transform="translate(611.6,754.7) scale(1,1.09)">7</text>
<!-- boxed 1 -->
<clipPath id="one" clipPathUnits="userSpaceOnUse"><path d="M0,-17 L13,-17 L13,-3.5 L8.2,-3.5 L8.2,1 L4.8,1 L4.8,-3.5 L0,-3.5 Z"/></clipPath>
<clipPath id="cp1"><rect x="318" y="169" width="19.5" height="23.3"/></clipPath>
<g clip-path="url(#cp1)"><text class="lbl" transform="translate(322.5,192.9) scale(1,1.09)" clip-path="url(#one)">1</text></g>
<rect x="318" y="168.7" width="19.3" height="23.6" rx="2.3" ry="2.3" fill="none" stroke="#70bf40" stroke-width="2"/>
<!-- leader halos -->
<path d="M360.5,144.5 L449.5,163.4" stroke="#fff" stroke-width="4.4" fill="none"/>
<path d="M339.3,191 L401.6,234.2" stroke="#fff" stroke-width="4.4" fill="none"/>
<path d="M329.8,233.5 L393,273.5" stroke="#fff" stroke-width="4.4" fill="none"/>
<path d="M315.7,285.7 L386.7,309.3" stroke="#fff" stroke-width="4.4" fill="none"/>
<path d="M246.9,293.5 L286.7,349" stroke="#fff" stroke-width="4.4" fill="none"/>
<path d="M187.3,323.3 L216.2,361.3" stroke="#fff" stroke-width="4.4" fill="none"/>
<path d="M90.8,361.7 L138.3,413.7" stroke="#fff" stroke-width="4.4" fill="none"/>
<path d="M576.3,217.5 L522.5,267.5" stroke="#fff" stroke-width="4.4" fill="none"/>
<path d="M545.4,321 L445.5,331.7" stroke="#fff" stroke-width="4.4" fill="none"/>
<path d="M545.4,382 L448.7,368.3" stroke="#fff" stroke-width="4.4" fill="none"/>
<path d="M683.3,365.3 L617.5,388.8" stroke="#fff" stroke-width="4.4" fill="none"/>
<path d="M686.7,445.3 L621.7,430" stroke="#fff" stroke-width="4.4" fill="none"/>
<path d="M442,430 L415,500.8" stroke="#fff" stroke-width="4.4" fill="none"/>
<path d="M336,461.7 L303.3,522.7" stroke="#fff" stroke-width="4.4" fill="none"/>
<path d="M509.5,519.5 L480,589.3" stroke="#fff" stroke-width="4.4" fill="none"/>
<path d="M370.6,687.6 L429,709" stroke="#fff" stroke-width="4.4" fill="none"/>
<path d="M548,747.4 L607,746.6" stroke="#fff" stroke-width="4.4" fill="none"/>
<!-- leaders -->
<path class="ld" d="M360.5,144.5 L449.5,163.4"/>
<path class="ld" d="M339.3,191 L401.6,234.2"/>
<path class="ld" d="M329.8,233.5 L393,273.5"/>
<path class="ld" d="M315.7,285.7 L386.7,309.3"/>
<path class="ld" d="M246.9,293.5 L286.7,349"/>
<path class="ld" d="M187.3,323.3 L216.2,361.3"/>
<path class="ld" d="M90.8,361.7 L138.3,413.7"/>
<path class="ld" d="M576.3,217.5 L522.5,267.5"/>
<path d="M528.5,322.8 L500.2,325.85" stroke="#fff" stroke-width="4.6" fill="none"/>
<path class="ld" d="M545.4,321 L445.5,331.7"/>
<path class="ld" d="M545.4,382 L448.7,368.3"/>
<path class="ld" d="M683.3,365.3 L617.5,388.8"/>
<path class="ld" d="M686.7,445.3 L621.7,430"/>
<path class="ld" d="M442,430 L415,500.8"/>
<path class="ld" d="M336,461.7 L303.3,522.7"/>
<path class="ld" d="M509.5,519.5 L480,589.3"/>
<path class="ld" d="M370.6,687.6 L429,709"/>
<path class="ld" d="M548,747.4 L607,746.6"/>
</g>
<!-- SECTION:LABELS -->
<!-- ===== WATERMARK ===== -->
<g id="watermark" style="mix-blend-mode:multiply">
<polygon points="109,391 377,229 645,391 377.5,553" fill="#f8faf4"/>
<polygon points="128,391 377,240.5 626,391 377.5,541.5" fill="#fdfefa"/>
<polygon points="137.5,391 377,246 616.5,391 377.5,536" fill="#fefef3"/>
<text class="wm" x="213" y="425" font-size="124">J</text>
<text class="wm" transform="translate(264.5,424.5) scale(1.14,1)" font-size="124">A</text>
<text class="wm" transform="translate(360,425) scale(0.73,1)" font-size="124">R</text>
<text class="wm" transform="translate(424,425) scale(0.97,1)" font-size="92">O</text>
<text class="wm" transform="translate(493,425) scale(0.9,1)" font-size="92">L</text>
</g>
</svg>
</body>
</html>
